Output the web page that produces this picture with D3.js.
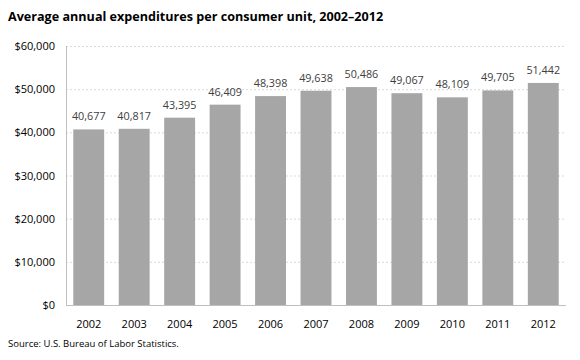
<!DOCTYPE html>
<html><head><meta charset="utf-8">
<script src="https://cdn.jsdelivr.net/npm/d3@7"></script>
<style>body{margin:0;background:#fff}svg{display:block}</style>
</head><body>
<script>
const years = ["2002","2003","2004","2005","2006","2007","2008","2009","2010","2011","2012"];
const values = [40677,40817,43395,46409,48398,49638,50486,49067,48109,49705,51442];
const yTicks = [0,10000,20000,30000,40000,50000,60000];
const title = "Average annual expenditures per consumer unit, 2002\u20132012";
const source = "Source: U.S. Bureau of Labor Statistics.";

const W=580,H=360;
const m={left:66,right:14,top:46,bottom:55};
const svg=d3.select("body").append("svg").attr("width",W).attr("height",H);
const font="'Open Sans', sans-serif";
const x=d3.scaleBand().domain(years).range([m.left,W-m.right]).paddingInner(0.32).paddingOuter(0.16);
const y=d3.scaleLinear().domain([0,60000]).range([H-m.bottom,m.top]);

svg.append("text").attr("x",8).attr("y",21).text(title)
  .attr("font-family",font).attr("font-weight","bold").attr("font-size",12.6).attr("fill","#000");

const g=svg.append("g");
g.selectAll("line.grid").data(yTicks.filter(d=>d>0)).join("line")
  .attr("x1",m.left).attr("x2",W-m.right).attr("y1",d=>y(d)+0.5).attr("y2",d=>y(d)+0.5)
  .attr("stroke","#d9d9d9").attr("stroke-dasharray","2,2");
g.selectAll("text.yl").data(yTicks).join("text")
  .attr("x",55).attr("y",d=>y(d)+4).attr("text-anchor","end")
  .attr("font-family",font).attr("font-size",11).attr("fill","#000")
  .text(d=>d3.format("$,")(d));

g.selectAll("rect").data(values).join("rect")
  .attr("x",(d,i)=>x(years[i])).attr("width",x.bandwidth())
  .attr("y",d=>y(d)).attr("height",d=>y(0)-y(d)).attr("fill","#a6a6a6");

g.selectAll("text.vl").data(values).join("text")
  .attr("x",(d,i)=>x(years[i])+x.bandwidth()/2).attr("y",d=>y(d)-9).attr("text-anchor","middle")
  .attr("font-family",font).attr("font-size",10.8).attr("fill","#404040")
  .text(d=>d3.format(",")(d));

g.append("line").attr("x1",m.left+0.5).attr("x2",m.left+0.5).attr("y1",m.top).attr("y2",y(0)).attr("stroke","#bfbfbf");
g.append("line").attr("x1",m.left).attr("x2",W-m.right).attr("y1",y(0)+0.5).attr("y2",y(0)+0.5).attr("stroke","#bfbfbf");

g.selectAll("text.xl").data(years).join("text")
  .attr("x",d=>x(d)+x.bandwidth()/2).attr("y",y(0)+23).attr("text-anchor","middle")
  .attr("font-family",font).attr("font-size",11).attr("fill","#000").text(d=>d);

svg.append("text").attr("x",8).attr("y",347).text(source)
  .attr("font-family",font).attr("font-size",9.5).attr("fill","#000");
</script>
</body></html>
